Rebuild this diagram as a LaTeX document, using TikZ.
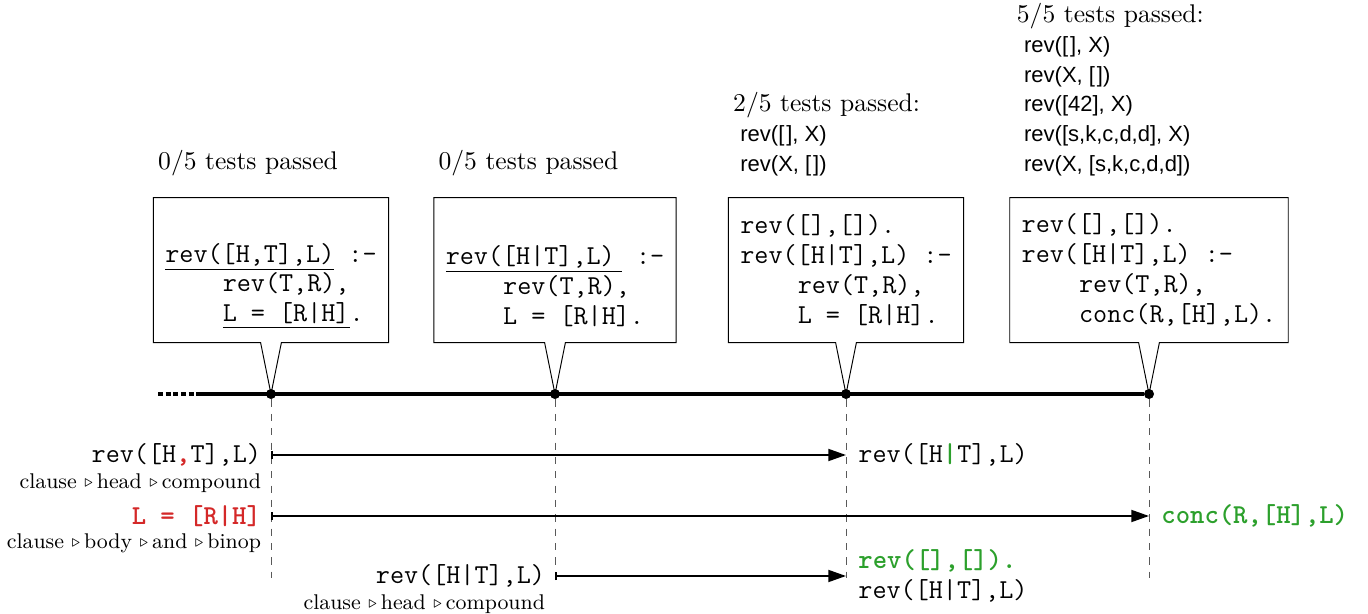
\documentclass[tikz,border=0pt]{standalone}
\usepackage{fontspec}
\setsansfont{Liberation Sans}
\usetikzlibrary{positioning, shapes.callouts, arrows.meta}

\definecolor{wrongred}{RGB}{212,40,40}
\definecolor{fixgreen}{RGB}{44,160,44}
\newcommand{\nxt}{\raisebox{0.8pt}{$\scriptstyle\triangleright$}\,}
\newcommand{\tst}[1]{\hspace*{3pt}{\sffamily\fontsize{9.2}{12.5}\selectfont #1}}
\newcommand{\nil}{[\kern0.8pt]}

\begin{document}
\begin{tikzpicture}[
    x=0.418pt, y=-0.418pt,
    node distance=19pt,
    tdot/.style={circle, fill, inner sep=0pt, minimum size=4.2pt},
    codebox/.style={rectangle callout, draw, align=left, inner xsep=5pt, minimum height=60.6pt,
        font=\ttfamily\fontsize{11.43}{12.5}\selectfont, callout pointer width=8.7pt},
    result/.style={align=left, inner sep=0pt, font=\fontsize{10.7}{12.5}\selectfont},
    codelabel/.style={inner sep=0pt, align=left, font=\ttfamily\fontsize{11.43}{12.5}\selectfont},
    pathlabel/.style={inner sep=0pt, font=\fontsize{8.9}{11}\selectfont},
    timeline/.style={line width=1.7pt},
    guide/.style={dash pattern=on 3pt off 3pt, gray!70!black},
    myarrow/.style={{Bar[width=3.5pt]}-{Triangle[length=7.4pt, width=5pt]}, line width=0.8pt}
]
    \useasboundingbox (0,0) rectangle (1368,614);

    \coordinate (tdots) at (158,394);
    \coordinate (tstart) at (197,394);
    \node[tdot] (t1) at (271,394) {};
    \node[tdot] (t2) at (555,394) {};
    \node[tdot] (t3) at (846,394) {};
    \node[tdot] (t4) at (1149,394) {};

    \draw[timeline, dash pattern=on 2.1pt off 1.1pt] (tdots) -- (tstart);
    \draw[timeline] (tstart) -- (t4);

    \node[codebox, above=of t1, callout absolute pointer={(t1)}] (box1)
        {\strut\\ \underline{rev([H,T],L)} :-\\ \hspace*{24pt}rev(T,R),\\ \hspace*{24pt}\underline{L = [R|H]}.};
    \node[codebox, above=of t2, callout absolute pointer={(t2)}] (box2)
        {\strut\\ \underline{rev([H|T],L)\kern3pt} :-\\ \hspace*{24pt}rev(T,R),\\ \hspace*{24pt}L = [R|H].};
    \node[codebox, above=of t3, callout absolute pointer={(t3)}] (box3)
        {rev([],[]).\\ rev([H|T],L) :-\\ \hspace*{24pt}rev(T,R),\\ \hspace*{24pt}L = [R|H].};
    \node[codebox, above=of t4, callout absolute pointer={(t4)}] (box4)
        {rev([],[]).\\ rev([H|T],L) :-\\ \hspace*{24pt}rev(T,R),\\ \hspace*{24pt}conc(R,[H],L).};

    \node[result, above=8.5pt of box1.north west, anchor=south west, xshift=2pt] (res1) {0/5 tests passed};
    \node[result, above=8.5pt of box2.north west, anchor=south west, xshift=2pt] (res2) {0/5 tests passed};
    \node[result, above=8.5pt of box3.north west, anchor=south west, xshift=2pt] (res3)
        {2/5 tests passed:\\ \tst{rev(\nil, X)}\\ \tst{rev(X, \nil)}};
    \node[result, above=8.5pt of box4.north west, anchor=south west, xshift=3pt] (res4)
        {5/5 tests passed:\\ \tst{rev(\nil, X)}\\ \tst{rev(X, \nil)}\\ \tst{rev([42], X)}\\
         \tst{rev([s,k,c,d,d], X)}\\ \tst{rev(X, [s,k,c,d,d])}};

    \coordinate (e1) at (271,578);
    \coordinate (e2) at (555,578);
    \coordinate (e3) at (846,578);
    \coordinate (e4) at (1149,578);
    \draw[guide] (t1) -- (e1);
    \draw[guide] (t2) -- (e2);
    \draw[guide] (t3) -- (e3);
    \draw[guide] (t4) -- (e4);

    \coordinate (a1s) at (271,455);
    \coordinate (a1e) at (846,455);
    \coordinate (a2s) at (271,516);
    \coordinate (a2e) at (1149,516);
    \coordinate (a3s) at (555,576);
    \coordinate (a3e) at (846,576);

    \draw[myarrow] (a1s) -- (a1e);
    \draw[myarrow] (a2s) -- (a2e);
    \draw[myarrow] (a3s) -- (a3e);

    \node[codelabel, left=4pt of a1s] (l1) {rev([H\textbf{\color{wrongred},}T],L)};
    \node[pathlabel, below=2.5pt of l1.south east, anchor=north east] (p1) {clause \nxt head \nxt compound};
    \node[codelabel, right=5pt of a1e] (r1) {rev([H\textbf{\color{fixgreen}|}T],L)};

    \node[codelabel, left=4pt of a2s, text=wrongred, font=\ttfamily\fontsize{11.43}{12.5}\selectfont\bfseries] (l2) {L = [R|H]};
    \node[pathlabel, below=2.5pt of l2.south east, anchor=north east] (p2) {clause \nxt body \nxt and \nxt binop};
    \node[codelabel, right=5pt of a2e, text=fixgreen, font=\ttfamily\fontsize{11.43}{12.5}\selectfont\bfseries] (r2) {conc(R,[H],L)};

    \node[codelabel, left=4pt of a3s] (l3) {rev([H|T],L)};
    \node[pathlabel, below=2.5pt of l3.south east, anchor=north east] (p3) {clause \nxt head \nxt compound};
    \node[codelabel, right=5pt of a3e] (r3) {\textbf{\color{fixgreen}rev([],[]).}\\ rev([H|T],L)};

\end{tikzpicture}
\end{document}
